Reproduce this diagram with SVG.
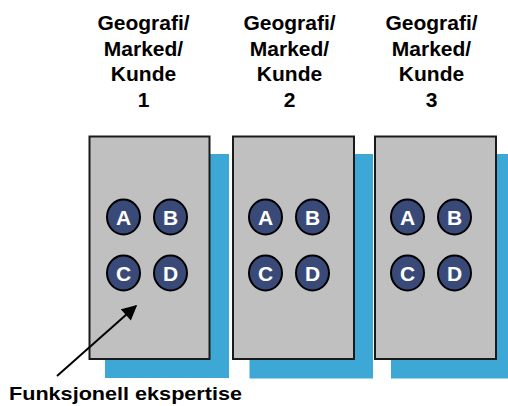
<svg xmlns="http://www.w3.org/2000/svg" width="508" height="406" viewBox="0 0 508 406">
  <defs>
    <style>
      .shadow { fill: #3da8d6; }
      .panel { fill: #c0c0c0; stroke: #1a1a1a; stroke-width: 2; }
      .dot { fill: #3a4a78; stroke: #000; stroke-width: 2; }
      .dot-label { font-family: "Liberation Sans", Arial, sans-serif; font-weight: bold; font-size: 21px; fill: #fff; text-anchor: middle; }
      .head { font-family: "Liberation Sans", Arial, sans-serif; font-weight: bold; font-size: 21px; fill: #000; text-anchor: middle; }
      .foot { font-family: "Liberation Sans", Arial, sans-serif; font-weight: bold; font-size: 18.5px; fill: #000; }
      .pointer { stroke: #000; stroke-width: 2; fill: none; }
    </style>
    <marker id="arrowhead" viewBox="0 0 10 10" refX="9" refY="5" markerWidth="8.5" markerHeight="7.5" markerUnits="strokeWidth" orient="auto">
      <path d="M0,0 L10,5 L0,10 Z" fill="#000"/>
    </marker>
    <!-- four labelled dots, positioned relative to a panel's left/top -->
    <g id="dots">
      <ellipse class="dot" cx="0" cy="0" rx="16.5" ry="17.5"/>
      <text class="dot-label" x="0" y="7.5">A</text>
      <ellipse class="dot" cx="47" cy="0" rx="16.5" ry="17.5"/>
      <text class="dot-label" x="47" y="7.5">B</text>
      <ellipse class="dot" cx="0" cy="56" rx="16.5" ry="17.5"/>
      <text class="dot-label" x="0" y="63.5">C</text>
      <ellipse class="dot" cx="47" cy="56" rx="16.5" ry="17.5"/>
      <text class="dot-label" x="47" y="63.5">D</text>
    </g>
  </defs>

  <rect width="508" height="406" fill="#fff"/>

  <g id="unit1">
    <text class="head" x="143.5" y="30">Geografi/</text>
    <text class="head" x="143.5" y="55.5">Marked/</text>
    <text class="head" x="143.5" y="81">Kunde</text>
    <text class="head" x="143.5" y="106.5">1</text>
    <rect class="shadow" x="105" y="154" width="124" height="224"/>
    <rect class="panel" x="89.5" y="136.5" width="120" height="222.5"/>
    <use href="#dots" x="123.5" y="217"/>
  </g>

  <g id="unit2">
    <text class="head" x="289.5" y="30">Geografi/</text>
    <text class="head" x="289.5" y="55.5">Marked/</text>
    <text class="head" x="289.5" y="81">Kunde</text>
    <text class="head" x="289.5" y="106.5">2</text>
    <rect class="shadow" x="249.5" y="154" width="123.5" height="224.5"/>
    <rect class="panel" x="233" y="136.5" width="121" height="222.5"/>
    <use href="#dots" x="265.5" y="217"/>
  </g>

  <g id="unit3">
    <text class="head" x="431.5" y="30">Geografi/</text>
    <text class="head" x="431.5" y="55.5">Marked/</text>
    <text class="head" x="431.5" y="81">Kunde</text>
    <text class="head" x="431.5" y="106.5">3</text>
    <rect class="shadow" x="391" y="154" width="117" height="224.5"/>
    <rect class="panel" x="375" y="136.5" width="121" height="222.5"/>
    <use href="#dots" x="407.5" y="217"/>
  </g>

  <g id="connectors">
    <line class="pointer" x1="57" y1="376" x2="136" y2="306" marker-end="url(#arrowhead)"/>
  </g>

  <g id="caption">
    <text class="foot" x="9" y="400" textLength="233" lengthAdjust="spacingAndGlyphs">Funksjonell ekspertise</text>
  </g>
</svg>
